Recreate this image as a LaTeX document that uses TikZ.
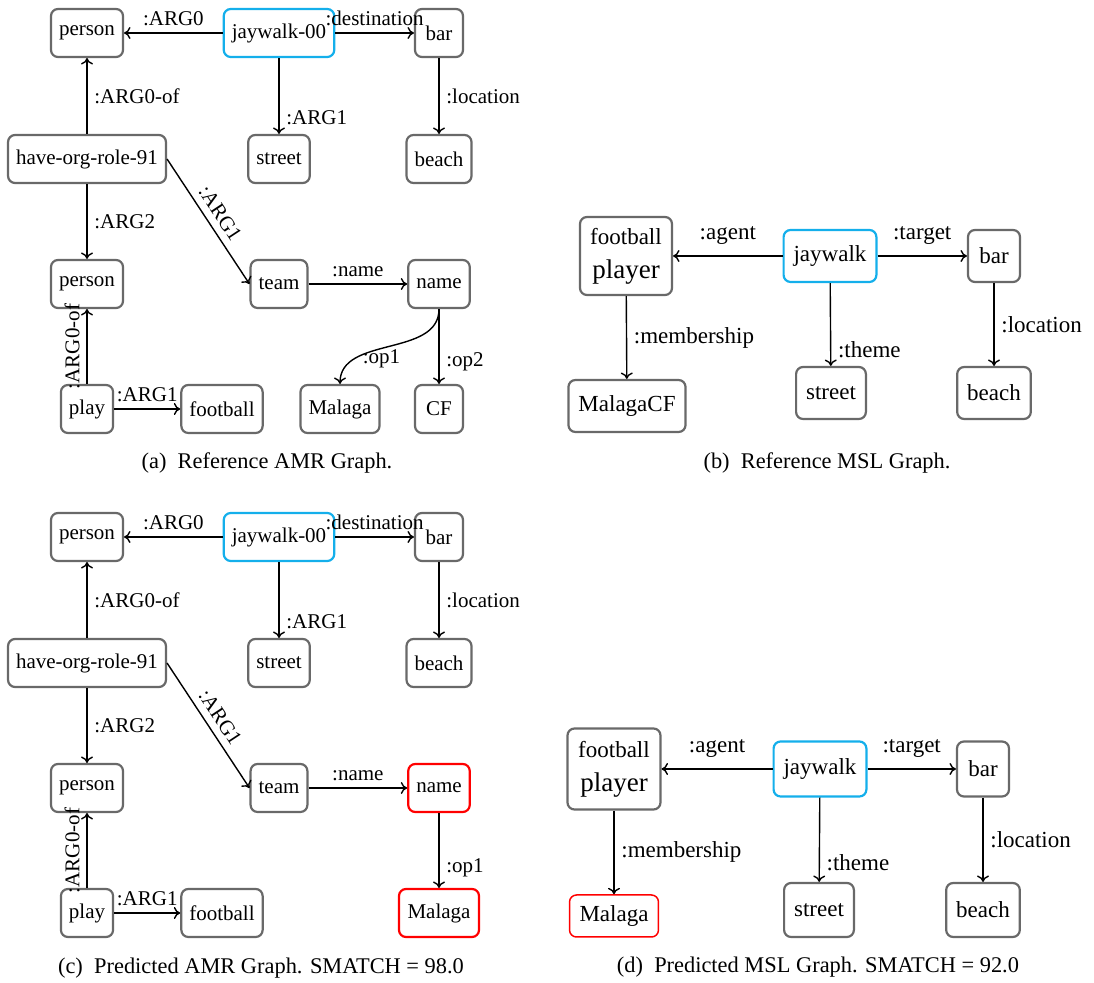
\documentclass[tikz,border=0pt]{standalone}
\usepackage{fontspec}
\setmainfont{Liberation Serif}
\usepackage{tikz}
\usetikzlibrary{arrows.meta}

\definecolor{boxgray}{RGB}{105,105,105}
\definecolor{rootblue}{RGB}{20,175,235}

\tikzset{
  >={To[length=3.2pt, width=6pt]},
  amr/.style={draw=boxgray, line width=1.1pt, rounded corners=3.5pt, inner xsep=4pt, minimum height=24pt, minimum width=24pt},
  msl/.style={draw=boxgray, line width=1.1pt, rounded corners=3.5pt, inner xsep=5pt, minimum height=26pt, minimum width=26pt},
  root/.style={draw=rootblue},
  wrong/.style={draw=red},
  rel/.style={->, line width=0.7pt},
  amrfont/.style={font=\fontsize{10.5}{12.5}\selectfont},
  mslfont/.style={font=\fontsize{11.5}{13.5}\selectfont},
  capfont/.style={font=\fontsize{11.2}{13}\selectfont},
}

\begin{document}
\begin{tikzpicture}[x=0.5pt, y=-0.5pt, amrfont]
\useasboundingbox (0,0) rectangle (1094,983);

% (a) reference AMR graph
\node (pa) at (87,33)[amr]{person};
\node (ja) at (279,33)[amr, root]{jaywalk-00};
\node (ba) at (439,33)[amr]{bar};
\node (ha) at (87,159)[amr]{have-org-role-91};
\node (sa) at (279,159)[amr]{street};
\node (ea) at (439,159)[amr]{beach};
\node (qa) at (87,284)[amr]{person};
\node (ta) at (279,284)[amr]{team};
\node (na) at (439,284)[amr]{name};
\node (ya) at (87,409)[amr]{play};
\node (fa) at (222,409)[amr]{football};
\node (ma) at (340,409)[amr]{Malaga};
\node (ca) at (439,409)[amr]{CF};

\draw[rel] (ja) -- (pa) node[midway, above]{:ARG0};
\draw[rel] (ja) -- (ba) node[midway, above]{:destination};
\draw[rel] (ja) -- (sa) node[pos=.78, right]{:ARG1};
\draw[rel] (ba) -- (ea) node[midway, right]{:location};
\draw[rel] (ha) -- (pa) node[midway, right]{:ARG0-of};
\draw[rel] (ha) -- (qa) node[midway, right]{:ARG2};
\draw[rel] (ha.east) -- (ta.west) node[midway, sloped, above]{:ARG1};
\draw[rel] (ya) -- (qa) node[midway, sloped, above]{:ARG0-of};
\draw[rel] (ya) -- (fa) node[midway, above]{:ARG1};
\draw[rel] (ta) -- (na) node[midway, above]{:name};
\draw[rel] (na.south) to[out=-90, in=90] node[pos=.75, right]{:op1} (ma.north);
\draw[rel] (na) -- (ca) node[pos=.71, right]{:op2};

\node (capa) at (267,463)[capfont]{(a)\enspace Reference AMR Graph.};

% (b) reference MSL graph
\begin{scope}[mslfont]
\node (pb) at (626,256)[msl, align=center, minimum width=46pt, minimum height=39pt]{football\\[3.5pt]{\fontsize{13.5}{14}\selectfont player}};
\node (jb) at (830,256)[msl, root]{jaywalk};
\node (bb) at (994,256)[msl]{bar};
\node (mb) at (627,406)[msl]{MalagaCF};
\node (sb) at (831,393)[msl]{street};
\node (eb) at (994,393)[msl]{beach};

\draw[rel] (jb) -- (pb) node[midway, above=2pt]{:agent};
\draw[rel] (jb) -- (bb) node[midway, above=2pt]{:target};
\draw[rel] (pb) -- (mb) node[midway, right]{:membership};
\draw[rel] (jb) -- (sb) node[pos=.8, right]{:theme};
\draw[rel] (bb) -- (eb) node[midway, right]{:location};
\end{scope}

\node (capb) at (827,463)[capfont]{(b)\enspace Reference MSL Graph.};

% (c) predicted AMR graph
\node (pc) at (87,537)[amr]{person};
\node (jc) at (279,537)[amr, root]{jaywalk-00};
\node (bc) at (439,537)[amr]{bar};
\node (hc) at (87,663)[amr]{have-org-role-91};
\node (sc) at (279,663)[amr]{street};
\node (ec) at (439,663)[amr]{beach};
\node (qc) at (87,788)[amr]{person};
\node (tc) at (279,788)[amr]{team};
\node (nc) at (439,788)[amr, wrong]{name};
\node (yc) at (87,913)[amr]{play};
\node (fc) at (222,913)[amr]{football};
\node (mc) at (439,913)[amr, wrong, minimum width=40pt]{Malaga};

\draw[rel] (jc) -- (pc) node[midway, above]{:ARG0};
\draw[rel] (jc) -- (bc) node[midway, above]{:destination};
\draw[rel] (jc) -- (sc) node[pos=.78, right]{:ARG1};
\draw[rel] (bc) -- (ec) node[midway, right]{:location};
\draw[rel] (hc) -- (pc) node[midway, right]{:ARG0-of};
\draw[rel] (hc) -- (qc) node[midway, right]{:ARG2};
\draw[rel] (hc.east) -- (tc.west) node[midway, sloped, above]{:ARG1};
\draw[rel] (yc) -- (qc) node[midway, sloped, above]{:ARG0-of};
\draw[rel] (yc) -- (fc) node[midway, above]{:ARG1};
\draw[rel] (tc) -- (nc) node[midway, above]{:name};
\draw[rel] (nc) -- (mc) node[pos=.73, right]{:op1};

\node (capc) at (261,968)[capfont]{(c)\enspace Predicted AMR Graph. SMATCH = 98.0};

% (d) predicted MSL graph
\begin{scope}[mslfont]
\node (pd) at (614,769)[msl, align=center, minimum width=46.5pt, minimum height=40.5pt]{football\\[3.5pt]{\fontsize{13.5}{14}\selectfont player}};
\node (jd) at (820,769)[msl, root, minimum height=27.5pt]{jaywalk};
\node (bd) at (983,769)[msl, minimum height=27.5pt]{bar};
\node (md) at (614,916)[msl, wrong, line width=0.75pt, minimum height=21pt]{Malaga};
\node (sd) at (819,910)[msl, minimum height=27pt]{street};
\node (ed) at (983,910)[msl, minimum height=27pt]{beach};

\draw[rel] (jd) -- (pd) node[midway, above=2pt]{:agent};
\draw[rel] (jd) -- (bd) node[midway, above=2pt]{:target};
\draw[rel] (pd) -- (md) node[midway, right]{:membership};
\draw[rel] (jd) -- (sd) node[pos=.77, right]{:theme};
\draw[rel] (bd) -- (ed) node[midway, right]{:location};
\end{scope}

\node (capd) at (818,967)[capfont]{(d)\enspace Predicted MSL Graph. SMATCH = 92.0};
\end{tikzpicture}
\end{document}
